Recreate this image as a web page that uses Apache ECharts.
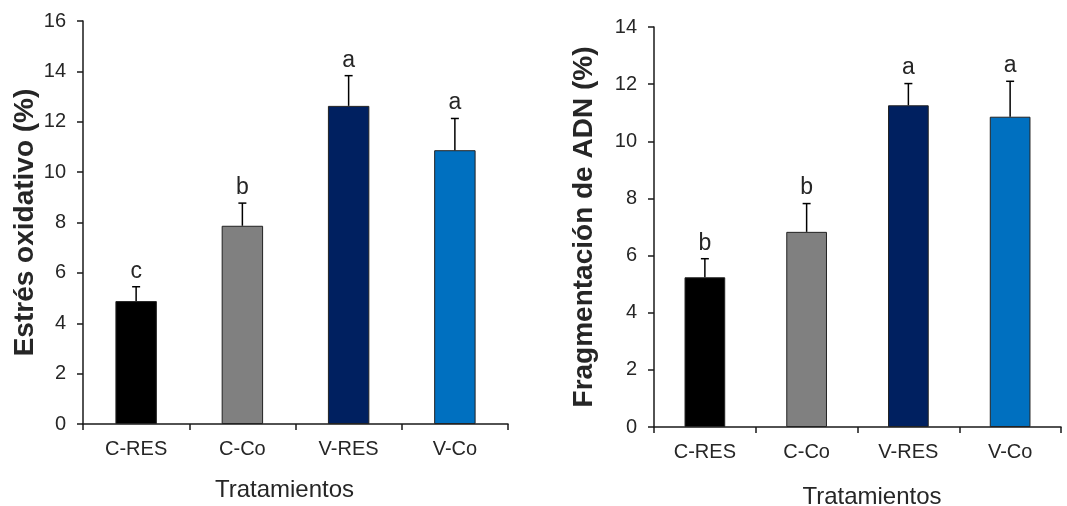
<!DOCTYPE html>
<html>
<head>
<meta charset="utf-8">
<script src="https://cdn.jsdelivr.net/npm/echarts@6/dist/echarts.min.js"></script>
<style>
html,body{margin:0;padding:0;background:#fff;}
#chart{width:1067px;height:506px;}
</style>
</head>
<body>
<div id="chart"></div>
<script>
const categories = ['C-RES', 'C-Co', 'V-RES', 'V-Co'];
const oxidativeValues = [4.88, 7.87, 12.63, 10.87];
const oxidativeErrors = [0.57, 0.90, 1.20, 1.26];
const oxidativeLetters = ['c', 'b', 'a', 'a'];
const dnaValues = [5.24, 6.83, 11.26, 10.86];
const dnaErrors = [0.65, 0.99, 0.76, 1.24];
const dnaLetters = ['b', 'b', 'a', 'a'];
const barColors = ['#000000', '#808080', '#002060', '#0070C0'];
const leftTicks = { min: 0, max: 16, interval: 2 };
const rightTicks = { min: 0, max: 14, interval: 2 };

const FONT = '"Liberation Sans", Arial, Helvetica, sans-serif';
const TXT = '#262626';
const AX = '#1a1a1a';

function barData(vals) {
  return vals.map((v, i) => ({ value: v, itemStyle: { color: barColors[i] } }));
}
function errData(vals, errs) {
  return vals.map((v, i) => [i, v, errs[i]]);
}
function errRenderer(letters) {
  return function (params, api) {
    const x = api.value(0), v = api.value(1), e = api.value(2);
    const base = api.coord([x, v]);
    const top = api.coord([x, v + e]);
    const st = { stroke: '#000', lineWidth: 1.5 };
    return {
      type: 'group',
      children: [
        { type: 'line', shape: { x1: base[0], y1: base[1], x2: base[0], y2: top[1] }, style: st },
        { type: 'line', shape: { x1: base[0] - 4, y1: top[1], x2: base[0] + 4, y2: top[1] }, style: st },
        { type: 'text', style: { text: letters[params.dataIndex], x: base[0], y: top[1] - 4,
          textAlign: 'center', textVerticalAlign: 'bottom', fontSize: 23, fontFamily: FONT, fill: TXT } }
      ]
    };
  };
}
function xAxisCfg(gridIndex, gap, pad) {
  return {
    type: 'category', gridIndex: gridIndex, data: categories,
    name: 'Tratamientos', nameLocation: 'middle', nameGap: gap,
    nameTextStyle: { fontSize: 24, fontFamily: FONT, color: TXT, padding: pad },
    axisLine: { lineStyle: { color: AX, width: 1.5 } },
    axisTick: { show: true, alignWithLabel: false, length: 6, lineStyle: { color: AX, width: 1.5 } },
    axisLabel: { fontSize: 20, fontFamily: FONT, color: TXT, margin: 15 },
    splitLine: { show: false }
  };
}
function yAxisCfg(gridIndex, name, ticks, gap) {
  return {
    type: 'value', gridIndex: gridIndex, min: ticks.min, max: ticks.max, interval: ticks.interval,
    name: name, nameLocation: 'middle', nameGap: gap,
    nameTextStyle: { fontSize: 28, fontWeight: 'bold', fontFamily: FONT, color: TXT },
    axisLine: { show: true, lineStyle: { color: AX, width: 1.5 } },
    axisTick: { show: true, length: 6, lineStyle: { color: AX, width: 1.5 } },
    axisLabel: { fontSize: 20, fontFamily: FONT, color: TXT, margin: 17 },
    splitLine: { show: false }
  };
}

const chart = echarts.init(document.getElementById('chart'), null, { renderer: 'canvas' });
chart.setOption({
  animation: false,
  backgroundColor: '#ffffff',
  grid: [
    { left: 83, top: 21, right: 559, bottom: 82, containLabel: false, outerBoundsMode: 'none' },
    { left: 654, top: 27, right: 6, bottom: 79, containLabel: false, outerBoundsMode: 'none' }
  ],
  xAxis: [xAxisCfg(0, 54, [0, 22, 0, 0]), xAxisCfg(1, 58, [0, 0, 0, 29])],
  yAxis: [
    yAxisCfg(0, 'Estrés oxidativo (%)', leftTicks, 44),
    yAxisCfg(1, 'Fragmentación de ADN (%)', rightTicks, 56)
  ],
  series: [
    { type: 'bar', xAxisIndex: 0, yAxisIndex: 0, data: barData(oxidativeValues), barWidth: '39%',
      itemStyle: { borderColor: '#222', borderWidth: 1 } },
    { type: 'custom', xAxisIndex: 0, yAxisIndex: 0, data: errData(oxidativeValues, oxidativeErrors),
      renderItem: errRenderer(oxidativeLetters), z: 5 },
    { type: 'bar', xAxisIndex: 1, yAxisIndex: 1, data: barData(dnaValues), barWidth: '40%',
      itemStyle: { borderColor: '#222', borderWidth: 1 } },
    { type: 'custom', xAxisIndex: 1, yAxisIndex: 1, data: errData(dnaValues, dnaErrors),
      renderItem: errRenderer(dnaLetters), z: 5 }
  ]
});
</script>
</body>
</html>
